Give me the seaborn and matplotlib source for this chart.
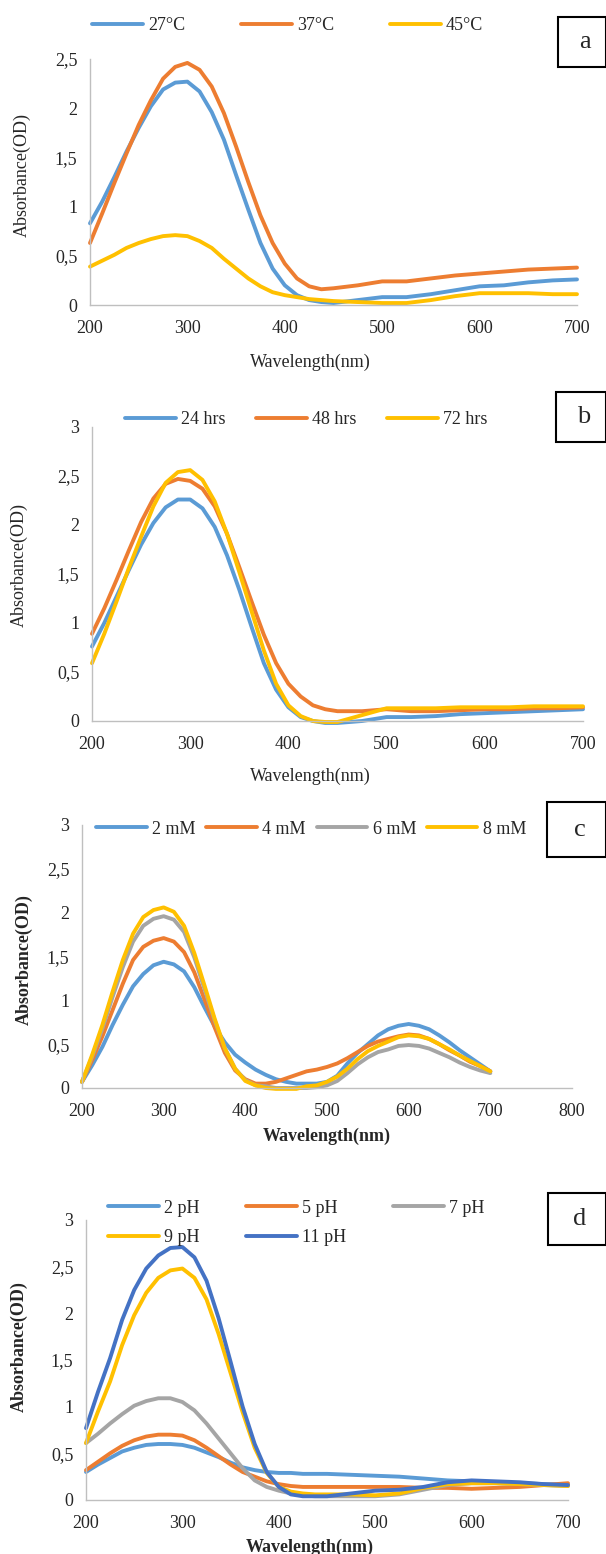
"""
UV-Vis absorbance spectra of the four synthesis conditions (panels a-d)
"""
import matplotlib
matplotlib.use('Agg')
import matplotlib.pyplot as plt
from matplotlib.patches import Rectangle
from matplotlib.ticker import FuncFormatter, MultipleLocator
import seaborn as sns

sns.set_style('white')
plt.rcParams['font.family'] = ['Liberation Serif', 'DejaVu Serif']

# ---- data ----
# panels a, b, d: 12.5 nm steps up to 450 nm, then 25 nm steps
wavelength = [200, 212.5, 225, 237.5, 250, 262.5, 275, 287.5, 300, 312.5, 325,
              337.5, 350, 362.5, 375, 387.5, 400, 412.5, 425, 437.5, 450,
              475, 500, 525, 550, 575, 600, 625, 650, 675, 700]
# panel c: 12.5 nm steps over the whole range
wavelength_c = [200, 212.5, 225, 237.5, 250, 262.5, 275, 287.5, 300, 312.5, 325,
                337.5, 350, 362.5, 375, 387.5, 400, 412.5, 425, 437.5, 450, 462.5,
                475, 487.5, 500, 512.5, 525, 537.5, 550, 562.5, 575, 587.5, 600,
                612.5, 625, 637.5, 650, 662.5, 675, 687.5, 700]

# a: temperature
temp_labels = ['27°C', '37°C', '45°C']
temp_27 = [0.83, 1.05, 1.30, 1.56, 1.80, 2.02, 2.19, 2.26, 2.27, 2.17, 1.96,
           1.68, 1.32, 0.97, 0.63, 0.37, 0.20, 0.10, 0.05, 0.03, 0.02,
           0.05, 0.08, 0.08, 0.11, 0.15, 0.19, 0.20, 0.23, 0.25, 0.26]
temp_37 = [0.63, 0.93, 1.24, 1.54, 1.83, 2.08, 2.30, 2.42, 2.46, 2.39, 2.22,
           1.95, 1.61, 1.25, 0.91, 0.63, 0.42, 0.27, 0.19, 0.16, 0.17,
           0.20, 0.24, 0.24, 0.27, 0.30, 0.32, 0.34, 0.36, 0.37, 0.38]
temp_45 = [0.39, 0.45, 0.51, 0.58, 0.63, 0.67, 0.70, 0.71, 0.70, 0.65, 0.58,
           0.47, 0.37, 0.27, 0.19, 0.13, 0.10, 0.08, 0.06, 0.05, 0.04,
           0.03, 0.02, 0.02, 0.05, 0.09, 0.12, 0.12, 0.12, 0.11, 0.11]

# b: incubation time
time_labels = ['24 hrs', '48 hrs', '72 hrs']
time_24 = [0.76, 1.00, 1.27, 1.54, 1.80, 2.02, 2.18, 2.26, 2.26, 2.17, 1.98,
           1.69, 1.34, 0.96, 0.59, 0.32, 0.14, 0.04, 0.00, -0.02, -0.02,
           0.00, 0.04, 0.04, 0.05, 0.07, 0.08, 0.09, 0.10, 0.11, 0.12]
time_48 = [0.89, 1.15, 1.44, 1.74, 2.03, 2.27, 2.42, 2.47, 2.45, 2.37, 2.19,
           1.91, 1.57, 1.22, 0.88, 0.59, 0.38, 0.25, 0.16, 0.12, 0.10,
           0.10, 0.12, 0.10, 0.10, 0.11, 0.12, 0.12, 0.13, 0.13, 0.14]
time_72 = [0.59, 0.89, 1.22, 1.56, 1.88, 2.19, 2.43, 2.54, 2.56, 2.46, 2.24,
           1.91, 1.52, 1.12, 0.72, 0.38, 0.16, 0.05, 0.00, -0.01, -0.01,
           0.06, 0.13, 0.13, 0.13, 0.14, 0.14, 0.14, 0.15, 0.15, 0.15]

# c: concentration
conc_labels = ['2 mM', '4 mM', '6 mM', '8 mM']
conc_2 = [0.07, 0.26, 0.47, 0.72, 0.95, 1.16, 1.30, 1.40, 1.44, 1.41, 1.33,
          1.15, 0.92, 0.70, 0.52, 0.38, 0.29, 0.21, 0.15, 0.10, 0.07, 0.05,
          0.05, 0.05, 0.07, 0.14, 0.28, 0.40, 0.50, 0.60, 0.67, 0.71, 0.73,
          0.71, 0.67, 0.60, 0.52, 0.43, 0.35, 0.27, 0.19]
conc_4 = [0.07, 0.32, 0.59, 0.89, 1.19, 1.46, 1.61, 1.68, 1.71, 1.67, 1.55,
          1.32, 1.01, 0.69, 0.40, 0.20, 0.10, 0.05, 0.05, 0.07, 0.11, 0.15,
          0.19, 0.21, 0.24, 0.28, 0.34, 0.41, 0.48, 0.53, 0.56, 0.59, 0.61,
          0.60, 0.56, 0.50, 0.43, 0.37, 0.30, 0.25, 0.19]
conc_6 = [0.07, 0.36, 0.68, 1.04, 1.38, 1.67, 1.85, 1.93, 1.96, 1.92, 1.78,
          1.49, 1.13, 0.77, 0.45, 0.22, 0.09, 0.03, 0.02, 0.00, 0.00, 0.00,
          0.00, 0.01, 0.03, 0.08, 0.17, 0.27, 0.35, 0.41, 0.44, 0.48, 0.49,
          0.48, 0.45, 0.40, 0.35, 0.29, 0.24, 0.20, 0.17]
conc_8 = [0.07, 0.38, 0.72, 1.10, 1.46, 1.76, 1.95, 2.03, 2.06, 2.01, 1.85,
          1.54, 1.17, 0.79, 0.45, 0.22, 0.08, 0.03, 0.00, -0.01, -0.01, -0.01,
          0.02, 0.03, 0.07, 0.13, 0.22, 0.33, 0.42, 0.48, 0.53, 0.58, 0.60,
          0.59, 0.56, 0.50, 0.44, 0.37, 0.31, 0.25, 0.19]

# d: pH
ph_labels = ['2 pH', '5 pH', '7 pH', '9 pH', '11 pH']
ph_2 = [0.30, 0.38, 0.45, 0.52, 0.56, 0.59, 0.60, 0.60, 0.59, 0.56, 0.51,
        0.46, 0.40, 0.35, 0.32, 0.30, 0.29, 0.29, 0.28, 0.28, 0.28,
        0.27, 0.26, 0.25, 0.23, 0.21, 0.20, 0.19, 0.18, 0.17, 0.16]
ph_5 = [0.32, 0.41, 0.50, 0.58, 0.64, 0.68, 0.70, 0.70, 0.69, 0.64, 0.56,
        0.47, 0.38, 0.30, 0.25, 0.20, 0.17, 0.15, 0.14, 0.14, 0.14,
        0.14, 0.14, 0.14, 0.13, 0.13, 0.12, 0.13, 0.14, 0.16, 0.18]
ph_7 = [0.61, 0.71, 0.82, 0.92, 1.01, 1.06, 1.09, 1.09, 1.05, 0.96, 0.82,
        0.66, 0.50, 0.34, 0.21, 0.14, 0.10, 0.07, 0.05, 0.04, 0.04,
        0.04, 0.04, 0.06, 0.11, 0.16, 0.18, 0.18, 0.17, 0.16, 0.15]
ph_9 = [0.61, 0.95, 1.27, 1.66, 1.98, 2.22, 2.38, 2.46, 2.48, 2.38, 2.15,
        1.78, 1.36, 0.94, 0.56, 0.29, 0.14, 0.09, 0.07, 0.06, 0.06,
        0.06, 0.05, 0.07, 0.13, 0.17, 0.18, 0.18, 0.17, 0.16, 0.15]
ph_11 = [0.77, 1.16, 1.52, 1.93, 2.25, 2.48, 2.62, 2.70, 2.71, 2.60, 2.35,
         1.95, 1.48, 1.00, 0.60, 0.30, 0.14, 0.06, 0.04, 0.04, 0.04,
         0.07, 0.10, 0.11, 0.14, 0.19, 0.21, 0.20, 0.19, 0.17, 0.16]

# Excel-like palette
BLUE, ORANGE, GRAY, YELLOW, DBLUE = '#5B9BD5', '#ED7D31', '#A5A5A5', '#FFC000', '#4472C4'

W, H = 606, 1554
fig = plt.figure(figsize=(W / 100, H / 100), dpi=100)


def fx(px):
    return px / W


def fy(py):
    return 1 - py / H


def draw_panel(box, xs, series, labels, colors, xmax, ymax, bold, letter,
               legend_at, legend_kw, letter_box, ylab_at, xlab_at, order=None):
    left, top, right, bottom = box
    ax = fig.add_axes([fx(left), fy(bottom), (right - left) / W, (bottom - top) / H])
    for vals, lab, col in zip(series, labels, colors):
        sns.lineplot(x=xs, y=vals, ax=ax, color=col, lw=2.8, label=lab,
                     clip_on=False, solid_capstyle='round', solid_joinstyle='round')
    handles, labs = ax.get_legend_handles_labels()
    ax.get_legend().remove()
    if order is not None:
        handles = [handles[i] for i in order]
        labs = [labs[i] for i in order]
    fig.legend(handles, labs, loc='center left',
               bbox_to_anchor=(fx(legend_at[0]), fy(legend_at[1])),
               bbox_transform=fig.transFigure, frameon=False, borderpad=0,
               borderaxespad=0, handlelength=2.8, handletextpad=0.3,
               fontsize=13, **legend_kw)

    ax.set_xlim(200, xmax)
    ax.set_ylim(0, ymax)
    ax.xaxis.set_major_locator(MultipleLocator(100))
    ax.yaxis.set_major_locator(MultipleLocator(0.5))
    ax.yaxis.set_major_formatter(FuncFormatter(lambda v, p: ('%g' % v).replace('.', ',')))
    ax.tick_params(length=0, labelsize=13, pad=9)
    ax.tick_params(axis='x', pad=11)
    for s in ['top', 'right']:
        ax.spines[s].set_visible(False)
    for s in ['left', 'bottom']:
        ax.spines[s].set_color('#BFBFBF')
        ax.spines[s].set_linewidth(1.0)
    ax.set_facecolor('none')

    weight = 'bold' if bold else 'normal'
    fig.text(fx(ylab_at[0]), fy(ylab_at[1]), 'Absorbance(OD)', rotation=90,
             ha='center', va='center', fontsize=13, fontweight=weight)
    fig.text(fx(xlab_at[0]), fy(xlab_at[1]), 'Wavelength(nm)',
             ha='center', va='center', fontsize=13, fontweight=weight)

    bx0, by0, bx1, by1 = letter_box
    fig.add_artist(Rectangle((fx(bx0), fy(by1)), (bx1 - bx0) / W, (by1 - by0) / H,
                             transform=fig.transFigure, fc='white', ec='black',
                             lw=1.5, clip_on=False))
    fig.text(fx((bx0 + bx1) / 2 + 3), fy((by0 + by1) / 2), letter,
             ha='center', va='center', fontsize=19)
    return ax


draw_panel((90, 59, 577, 305), wavelength, [temp_27, temp_37, temp_45], temp_labels,
           [BLUE, ORANGE, YELLOW], 700, 2.5, False, 'a',
           (92, 26), dict(ncol=3, columnspacing=3.1),
           (558, 17, 606, 67), (22, 175), (310, 362))

draw_panel((92, 427, 583, 721), wavelength, [time_24, time_48, time_72], time_labels,
           [BLUE, ORANGE, YELLOW], 700, 3, False, 'b',
           (125, 420), dict(ncol=3, columnspacing=1.7),
           (556, 392, 606, 442), (19, 565), (310, 776))

draw_panel((82, 825, 572, 1088), wavelength_c, [conc_2, conc_4, conc_6, conc_8],
           conc_labels, [BLUE, ORANGE, GRAY, YELLOW], 800, 3, True, 'c',
           (96, 829), dict(ncol=4, columnspacing=0.6),
           (547, 802, 606, 857), (24, 960), (327, 1136))

draw_panel((86, 1220, 568, 1500), wavelength, [ph_2, ph_5, ph_7, ph_9, ph_11], ph_labels,
           [BLUE, ORANGE, GRAY, YELLOW, DBLUE], 700, 3, True, 'd',
           (108, 1223), dict(ncol=3, columnspacing=2.6, labelspacing=0.7),
           (548, 1193, 606, 1245), (19, 1347), (310, 1547), order=[0, 3, 1, 4, 2])

fig.savefig('out.png', dpi=100, facecolor='white')
